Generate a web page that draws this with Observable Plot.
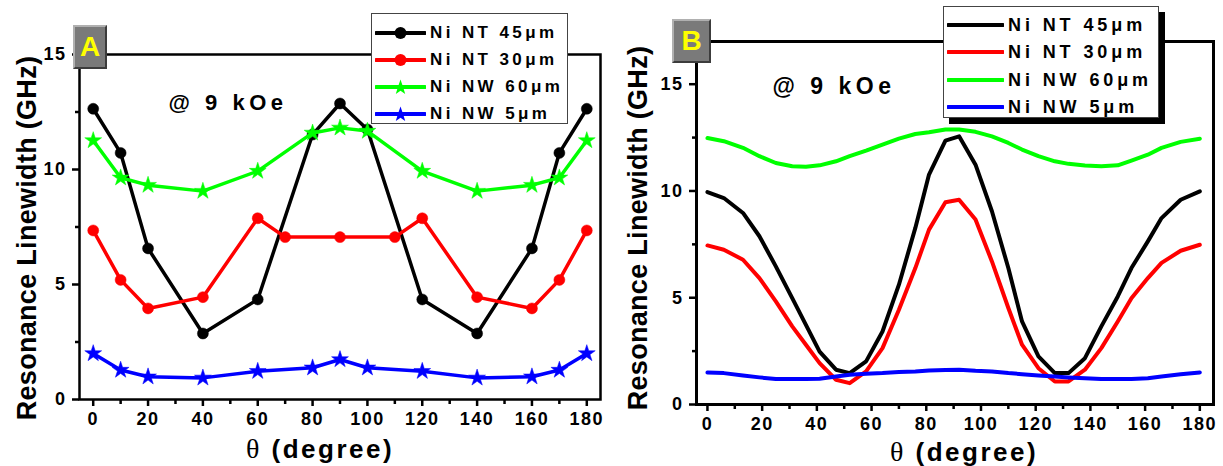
<!DOCTYPE html>
<html><head><meta charset="utf-8">
<script src="https://cdn.jsdelivr.net/npm/d3@7"></script>
<script src="https://cdn.jsdelivr.net/npm/@observablehq/plot@0.6"></script>
<style>
html,body{margin:0;padding:0;background:#fff;}
#wrap{position:relative;width:1223px;height:466px;overflow:hidden;font-family:"Liberation Sans",Arial,sans-serif;font-weight:bold;color:#000;background:#fff;}
.abs{position:absolute;white-space:nowrap;}
#wrap svg{position:absolute;}
#wrap svg text{letter-spacing:1.5px;}
</style></head><body><div id="wrap"></div>
<script>
// ---------- data ----------
const seriesNames = ["Ni NT 45μm", "Ni NT 30μm", "Ni NW 60μm", "Ni NW 5μm"];
const seriesColors = ["#000000", "#ff0000", "#00ff00", "#0000ff"];
const seriesSymbolsA = ["circle", "circle", "star", "star"];

// Panel A (measured points)
const thetaA = [0, 10, 20, 40, 60, 80, 90, 100, 120, 140, 160, 170, 180];
const thetaA_NT30 = [0, 10, 20, 40, 60, 70, 90, 110, 120, 140, 160, 170, 180];
const A_NT45 = [12.64, 10.72, 6.57, 2.87, 4.35, 11.52, 12.87, 11.74, 4.35, 2.87, 6.57, 10.72, 12.64];
const A_NT30 = [7.35, 5.20, 3.96, 4.45, 7.88, 7.06, 7.06, 7.06, 7.88, 4.45, 3.96, 5.20, 7.35];
const A_NW60 = [11.26, 9.64, 9.32, 9.06, 9.93, 11.59, 11.81, 11.67, 9.93, 9.06, 9.32, 9.64, 11.26];
const A_NW5 = [2.00, 1.28, 0.99, 0.94, 1.23, 1.38, 1.74, 1.38, 1.23, 0.94, 0.99, 1.28, 2.00];

// Panel B (curves)
const thetaB = [0, 6, 13, 19, 25, 31, 36, 41, 47, 52, 58, 64, 70, 76, 81, 87, 92, 98, 104, 110, 115, 121, 127, 132, 138, 144, 150, 155, 161, 166, 173, 180];
const B_NT45 = [9.95, 9.67, 8.97, 7.88, 6.47, 4.98, 3.73, 2.48, 1.63, 1.47, 2.02, 3.42, 5.61, 8.27, 10.77, 12.36, 12.56, 11.23, 9.05, 6.39, 3.89, 2.25, 1.47, 1.47, 2.17, 3.66, 5.06, 6.39, 7.64, 8.73, 9.59, 9.98];
const B_NT30 = [7.45, 7.25, 6.78, 5.92, 4.83, 3.66, 2.80, 1.94, 1.16, 1.00, 1.55, 2.64, 4.44, 6.39, 8.19, 9.47, 9.59, 8.66, 6.70, 4.52, 2.80, 1.70, 1.08, 1.08, 1.63, 2.64, 3.89, 4.98, 5.92, 6.63, 7.20, 7.48];
const B_NW60 = [12.48, 12.33, 12.02, 11.63, 11.31, 11.16, 11.13, 11.20, 11.39, 11.63, 11.89, 12.17, 12.45, 12.67, 12.75, 12.88, 12.88, 12.77, 12.56, 12.25, 11.94, 11.63, 11.39, 11.27, 11.19, 11.16, 11.20, 11.42, 11.70, 12.02, 12.30, 12.45];
const B_NW5 = [1.50, 1.47, 1.36, 1.27, 1.19, 1.19, 1.19, 1.21, 1.31, 1.39, 1.44, 1.47, 1.52, 1.55, 1.59, 1.62, 1.63, 1.58, 1.55, 1.47, 1.42, 1.36, 1.31, 1.27, 1.23, 1.19, 1.19, 1.19, 1.23, 1.31, 1.42, 1.50];

// ticks
const xMajor = [0, 20, 40, 60, 80, 100, 120, 140, 160, 180];
const xMinor = [10, 30, 50, 70, 90, 110, 130, 150, 170];
const yMajor = [0, 5, 10, 15];
const yMinor = [2.5, 7.5, 12.5];

const yTitle = "Resonance Linewidth (GHz)";
const fieldNote = "@ 9 kOe";

// ---------- build tables ----------
const A_x = [thetaA, thetaA_NT30, thetaA, thetaA];
const A_y = [A_NT45, A_NT30, A_NW60, A_NW5];
const B_y = [B_NT45, B_NT30, B_NW60, B_NW5];
const tableA = seriesNames.map((s, i) => A_x[i].map((t, j) => ({series: s, theta: t, lw: A_y[i][j]})));
const tableB = seriesNames.map((s, i) => thetaB.map((t, j) => ({series: s, theta: t, lw: B_y[i][j]})));

const wrap = document.getElementById("wrap");

const axisStyle = {fontSize: 18, fontWeight: "bold"};

function panel(table, opts) {
  const marks = [
    Plot.axisX({ticks: xMajor, tickSize: 7, tickPadding: 6, strokeWidth: 2.5, label: null, ...axisStyle}),
    Plot.axisX({ticks: xMinor, tickSize: 5, strokeWidth: 2.5, tickFormat: () => "", label: null}),
    Plot.axisY({ticks: yMajor, tickSize: 7, tickPadding: 6, strokeWidth: 2.5, label: null, ...axisStyle}),
    Plot.axisY({ticks: yMinor, tickSize: 4, strokeWidth: 2.5, tickFormat: () => "", label: null}),
    Plot.frame({stroke: "#000", strokeWidth: opts.frameWidth})
  ];
  table.forEach((rows, i) => {
    marks.push(Plot.line(rows, {x: "theta", y: "lw", stroke: seriesColors[i], strokeWidth: opts.lineWidth, curve: "linear"}));
    if (opts.symbols) {
      const sym = opts.symbols[i];
      marks.push(Plot.dot(rows, {x: "theta", y: "lw", fill: seriesColors[i], stroke: seriesColors[i], strokeWidth: 0.5, symbol: sym, r: sym === "star" ? 5.3 : 5.5}));
    }
  });
  const svg = Plot.plot({
    width: opts.width, height: 466,
    marginLeft: opts.ml, marginRight: opts.mr, marginTop: opts.mt, marginBottom: opts.mb,
    x: {domain: opts.xdom},
    y: {domain: opts.ydom},
    style: {fontFamily: '"Liberation Sans", Arial, sans-serif', fontWeight: "bold", color: "#000", background: "transparent", overflow: "visible"},
    marks
  });
  svg.style.left = opts.left + "px";
  svg.style.top = "0px";
  wrap.appendChild(svg);
}

panel(tableA, {width: 611, left: 0, ml: 79, mr: 11, mt: 54, mb: 67, xdom: [-5, 185], ydom: [0, 15], lineWidth: 3.5, frameWidth: 2.5, symbols: seriesSymbolsA});
panel(tableB, {width: 612, left: 611, ml: 85, mr: 10, mt: 41, mb: 62, xdom: [-4, 185], ydom: [0, 17], lineWidth: 4, frameWidth: 3});

// ---------- text overlays ----------
function addDiv(html, css) {
  const d = document.createElement("div");
  d.className = "abs";
  d.innerHTML = html;
  Object.assign(d.style, css);
  wrap.appendChild(d);
  return d;
}
// y titles
[[27, 238], [638, 228]].forEach(([cx, cy]) => {
  addDiv(yTitle, {left: cx + "px", top: cy + "px", fontSize: "27px", transform: "translate(-50%,-50%) rotate(-90deg)", letterSpacing: "0.3px"});
});
// x titles
[[320, 449], [964, 452]].forEach(([cx, cy]) => {
  addDiv('<span style="font-family:\'Liberation Serif\',serif;font-weight:normal;font-size:28px">θ</span> (degree)', {left: cx + "px", top: cy + "px", fontSize: "26px", letterSpacing: "2.5px", transform: "translate(-50%,-50%)"});
});
// field note
addDiv(fieldNote, {left: "228px", top: "103px", fontSize: "22px", letterSpacing: "4.5px", transform: "translate(-50%,-50%)"});
addDiv(fieldNote, {left: "834px", top: "86px", fontSize: "23px", letterSpacing: "4.5px", transform: "translate(-50%,-50%)"});

// panel labels
function panelLabel(txt, l, t, w, h) {
  addDiv(txt, {left: l + "px", top: t + "px", width: w + "px", height: h + "px", boxSizing: "border-box", background: "#7a7a7a",
    borderTop: "2px solid #b0b0b0", borderLeft: "2px solid #b0b0b0", borderRight: "2px solid #3c3c3c", borderBottom: "2px solid #3c3c3c",
    color: "#ffff00", fontSize: "28px", textAlign: "center", lineHeight: (h - 4) + "px"});
}
panelLabel("A", 73, 25, 34, 44);
panelLabel("B", 672, 19, 39, 44);

// legends
function legend(l, t, w, h, rows, swW, txtL, fs, ls, shadow, withSym) {
  const box = addDiv("", {left: l + "px", top: t + "px", width: w + "px", height: h + "px", boxSizing: "border-box", background: "#fff", border: "1px solid #444", boxShadow: shadow ? "6px 6px 0 #000" : "none"});
  seriesNames.forEach((s, i) => {
    const cy = rows[i];
    let sym = "";
    if (withSym) {
      const c = seriesColors[i];
      if (seriesSymbolsA[i] === "circle") sym = `<circle cx="${swW / 2}" cy="8" r="6" fill="${c}"/>`;
      else {
        const pts = [];
        for (let k = 0; k < 10; k++) { const a = -Math.PI / 2 + k * Math.PI / 5; const r = k % 2 ? 3.2 : 8; pts.push((swW / 2 + r * Math.cos(a)).toFixed(2) + "," + (8.5 + r * Math.sin(a)).toFixed(2)); }
        sym = `<polygon points="${pts.join(" ")}" fill="${c}"/>`;
      }
    }
    const sw = document.createElement("div");
    sw.className = "abs";
    Object.assign(sw.style, {left: "3px", top: (cy - 8) + "px"});
    sw.innerHTML = `<svg width="${swW}" height="17" style="position:static;display:block"><line x1="1" x2="${swW - 1}" y1="8" y2="8" stroke="${seriesColors[i]}" stroke-width="4" stroke-linecap="round"/>${sym}</svg>`;
    box.appendChild(sw);
    const tx = document.createElement("div");
    tx.className = "abs";
    tx.textContent = s;
    Object.assign(tx.style, {left: txtL + "px", top: cy + "px", transform: "translateY(-50%)", fontSize: fs + "px", letterSpacing: ls + "px"});
    box.appendChild(tx);
  });
}
legend(371, 13, 197, 111, [18.5, 45.5, 72.5, 100], 51, 58, 17, 3.4, false, true);
legend(943, 6, 216, 112, [18, 45, 72.5, 100], 57, 64, 18, 3.9, true, false);
</script>
</body></html>
